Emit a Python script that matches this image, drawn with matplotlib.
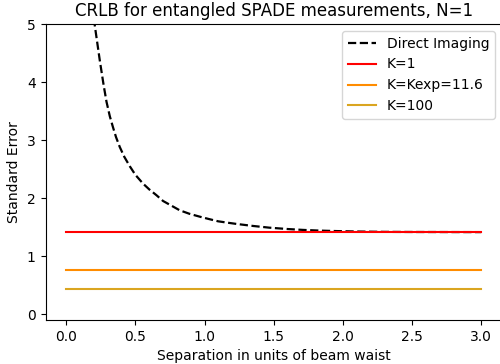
import matplotlib
matplotlib.use("Agg")
import matplotlib.pyplot as plt

# Direct imaging curve
sep = [0.19, 0.206, 0.242, 0.27, 0.291, 0.315, 0.338, 0.36, 0.387, 0.42, 0.459, 0.5,
       0.555, 0.6, 0.652, 0.7, 0.76, 0.82, 0.89, 0.965, 1.03, 1.098, 1.17, 1.23,
       1.35, 1.47, 1.6, 1.71, 1.83, 1.95, 2.1, 2.3, 2.5, 2.75, 3.0]
direct = [5.3, 4.98, 4.38, 3.95, 3.66, 3.41, 3.22, 3.05, 2.88, 2.71, 2.55, 2.40,
          2.25, 2.15, 2.05, 1.95, 1.87, 1.79, 1.73, 1.68, 1.64, 1.60, 1.575, 1.555,
          1.52, 1.49, 1.467, 1.452, 1.44, 1.432, 1.424, 1.418, 1.416, 1.415, 1.414]

# Constant CRLB lines
k_x = [0.0, 3.0]
k_labels = ["K=1", "K=Kexp=11.6", "K=100"]
k_values = [1.414, 0.753, 0.437]
k_colors = ["red", "darkorange", "goldenrod"]

fig = plt.figure(figsize=(5.0, 3.64), dpi=100)
ax = fig.add_axes([0.091, 0.121, 0.913, 0.813])

ax.plot(sep, direct, "k--", lw=1.6, label="Direct Imaging")
for lab, val, col in zip(k_labels, k_values, k_colors):
    ax.plot(k_x, [val, val], color=col, lw=1.5, label=lab)

ax.set_xlim(-0.15, 3.15)
ax.set_ylim(-0.1, 5)
ax.set_xticks([0.0, 0.5, 1.0, 1.5, 2.0, 2.5, 3.0])
ax.set_yticks([0, 1, 2, 3, 4, 5])
ax.set_title("CRLB for entangled SPADE measurements, N=1")
ax.set_xlabel("Separation in units of beam waist")
ax.set_ylabel("Standard Error")
ax.legend(loc="upper right")

fig.savefig("out.png", dpi=100)
